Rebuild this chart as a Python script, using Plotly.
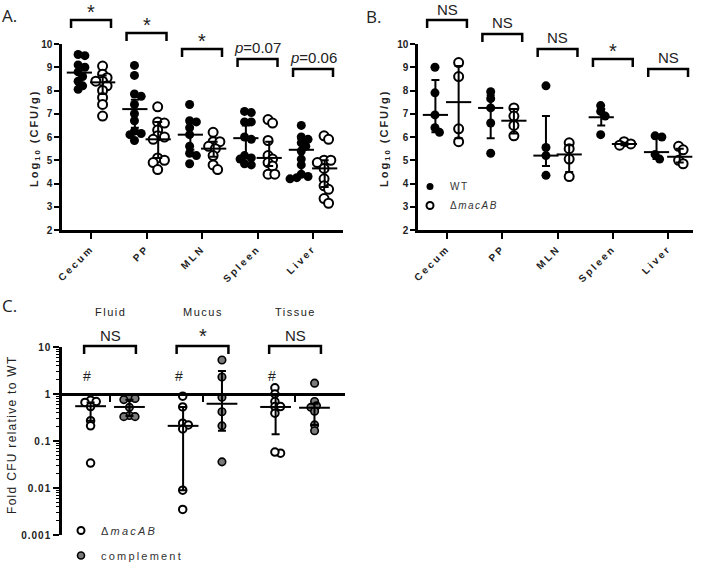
import numpy as np
import plotly.graph_objects as go

W, H = 701, 563
FONT = "Liberation Sans"

# ---------------- data ----------------
organs = ["Cecum", "PP", "MLN", "Spleen", "Liver"]
yticks_ab = [2, 3, 4, 5, 6, 7, 8, 9, 10]

# Panel A: log10 CFU/g, WT vs ΔmacAB
a_wt = [
    [9.5, 9.55, 9.1, 9.0, 8.8, 8.6, 8.4, 8.2, 8.05],
    [9.08, 8.65, 7.85, 7.75, 7.4, 7.0, 6.7, 6.25, 6.15, 6.1, 5.85],
    [7.4, 6.7, 6.65, 6.4, 6.1, 5.6, 5.3, 5.2, 4.85],
    [7.1, 7.05, 6.65, 6.65, 6.0, 5.9, 5.2, 5.1, 5.05, 4.85, 4.8],
    [6.5, 6.0, 5.9, 5.75, 5.6, 5.4, 5.05, 4.8, 4.4, 4.3, 4.25, 4.2],
]
a_mut = [
    [9.05, 8.7, 8.55, 8.4, 8.4, 8.2, 8.0, 7.7, 7.4, 6.9],
    [7.3, 6.65, 6.6, 6.3, 6.05, 6.0, 5.9, 5.1, 5.0, 4.9, 4.6],
    [6.2, 5.8, 5.8, 5.6, 5.5, 5.2, 4.8, 4.6],
    [6.75, 6.6, 5.85, 5.2, 5.05, 4.9, 4.75, 4.4, 4.4],
    [6.05, 5.9, 5.0, 5.0, 4.9, 4.65, 4.2, 3.9, 3.75, 3.35, 3.15],
]
a_wt_mid = [8.77, 7.2, 6.1, 5.95, 5.45]
a_wt_hi = [9.1, 7.6, 6.6, 6.5, 5.9]
a_wt_lo = [8.3, 6.4, 5.45, 5.1, 4.35]
a_mut_mid = [8.35, 5.9, 5.5, 5.1, 4.65]
a_mut_hi = [8.65, 6.65, 5.8, 5.8, 5.0]
a_mut_lo = [7.85, 5.1, 5.15, 4.75, 3.85]
a_sig = ["*", "*", "*", "<i>p</i>=0.07", "<i>p</i>=0.06"]

# Panel B
b_wt = [
    [9.0, 7.9, 6.95, 6.4, 6.2],
    [7.95, 7.65, 7.25, 6.6, 5.3],
    [8.2, 5.55, 5.2, 4.35],
    [7.35, 7.1, 6.9, 6.1],
    [6.05, 6.0, 5.25, 5.05],
]
b_mut = [
    [9.2, 8.6, 6.35, 5.8],
    [7.25, 6.9, 6.5, 6.05],
    [5.75, 5.5, 5.05, 4.3],
    [5.8, 5.7, 5.65],
    [5.6, 5.45, 5.0, 4.85],
]
b_wt_mid = [6.95, 7.25, 5.2, 6.85, 5.35]
b_wt_hi = [8.45, 7.8, 6.9, 7.2, 5.95]
b_wt_lo = [6.2, 5.95, 4.75, 6.5, 5.05]
b_mut_mid = [7.5, 6.7, 5.25, 5.7, 5.15]
b_mut_hi = [9.05, 7.2, 5.65, 5.75, 5.5]
b_mut_lo = [5.95, 6.15, 4.5, 5.65, 4.9]
b_sig = ["NS", "NS", "NS", "*", "NS"]

# Panel C: fold CFU relative to WT
sites = ["Fluid", "Mucus", "Tissue"]
c_mut = [
    [0.74, 0.69, 0.66, 0.54, 0.27, 0.21, 0.034],
    [0.9, 0.53, 0.24, 0.22, 0.18, 0.009, 0.0035],
    [1.35, 1.0, 0.69, 0.54, 0.54, 0.39, 0.055, 0.058],
]
c_comp = [
    [0.83, 0.8, 0.76, 0.52, 0.35, 0.33, 0.33],
    [5.3, 2.3, 0.85, 0.42, 0.21, 0.036],
    [1.7, 0.69, 0.56, 0.52, 0.43, 0.22, 0.165],
]
c_mut_mid = [0.55, 0.21, 0.53]
c_mut_hi = [0.66, 0.53, 1.0]
c_mut_lo = [0.27, 0.009, 0.14]
c_comp_mid = [0.53, 0.62, 0.51]
c_comp_hi = [0.75, 3.1, 0.62]
c_comp_lo = [0.34, 0.165, 0.22]
c_sig = ["NS", "*", "NS"]
c_hash_y = 2.4
c_ticks = [0.001, 0.01, 0.1, 1, 10]
c_ticktext = ["0.001", "0.01", "0.1", "1", "10"]

# ---------------- geometry ----------------
A_XD = (62 / W, 343 / W); A_XR = (0.477, 5.54)
B_XD = (418 / W, 693 / W); B_XR = (0.475, 5.45)
AB_YD = (1 - 230 / H, 1 - 44 / H); AB_YR = (2, 10)
C_XD = (62 / W, 345 / W); C_XR = (0.481, 3.54)
C_YD = (1 - 535 / H, 1 - 347 / H); C_YR = (-3, 1)


def sp(text, ls):
    return f'<span style="letter-spacing:{ls}px">{text}</span>'


def xpx_per_unit(dom, rng):
    return (dom[1] - dom[0]) * W / (rng[1] - rng[0])


def ypx_per_unit(dom, rng):
    return (dom[1] - dom[0]) * H / (rng[1] - rng[0])


def to_paper(v, dom, rng):
    return dom[0] + (v - rng[0]) / (rng[1] - rng[0]) * (dom[1] - dom[0])


def swarm(vals, d, ypu, xpu, log=False):
    ys = [(np.log10(v) if log else v) * ypu for v in vals]
    order = sorted(range(len(vals)), key=lambda i: -ys[i])
    placed = []
    offs = [0.0] * len(vals)
    step = d * 0.25
    cands = [0]
    for k in range(1, 40):
        cands += [k, -k]
    for i in order:
        y = ys[i]
        for k in cands:
            ox = k * step
            if all((ox - px) ** 2 + (y - py) ** 2 >= (d * 0.62) ** 2 for px, py in placed):
                break
        placed.append((ox, y))
        offs[i] = ox / xpu
    m = np.mean(offs)
    return [o - m * 0.5 for o in offs]


fig = go.Figure()

SHIFT_AB = 0.21
SHIFT_C = 0.21


def add_group(xpos, vals, mid, hi, lo, xa, ya, style, d, ypu, xpu, log=False, cw=18):
    offs = swarm(vals, d, ypu, xpu, log)
    fig.add_trace(go.Scatter(
        x=[xpos + o for o in offs], y=vals, mode="markers",
        marker=dict(size=d, **style), xaxis=xa, yaxis=ya,
        showlegend=False, hoverinfo="skip", cliponaxis=False))
    fig.add_trace(go.Scatter(
        x=[xpos], y=[mid], mode="markers", xaxis=xa, yaxis=ya,
        marker=dict(symbol="line-ew", size=cw, color="black",
                    line=dict(color="black", width=2)),
        error_y=dict(type="data", symmetric=False, array=[hi - mid],
                     arrayminus=[mid - lo], thickness=2, width=4, color="black"),
        showlegend=False, hoverinfo="skip", cliponaxis=False))


STY_WT = dict(color="black", line=dict(width=0))
STY_MUT = dict(color="white", line=dict(color="black", width=2))
STY_COMP = dict(color="#7a7a7a", line=dict(color="black", width=1.6))

xpuA = xpx_per_unit(A_XD, A_XR); ypuAB = ypx_per_unit(AB_YD, AB_YR)
for i in range(5):
    add_group(i + 1 - SHIFT_AB, a_wt[i], a_wt_mid[i], a_wt_hi[i], a_wt_lo[i],
              "x", "y", STY_WT, 9, ypuAB, xpuA)
    add_group(i + 1 + SHIFT_AB, a_mut[i], a_mut_mid[i], a_mut_hi[i], a_mut_lo[i],
              "x", "y", STY_MUT, 9, ypuAB, xpuA)

xpuB = xpx_per_unit(B_XD, B_XR)
for i in range(5):
    add_group(i + 1 - SHIFT_AB, b_wt[i], b_wt_mid[i], b_wt_hi[i], b_wt_lo[i],
              "x2", "y2", STY_WT, 9, ypuAB, xpuB)
    add_group(i + 1 + SHIFT_AB, b_mut[i], b_mut_mid[i], b_mut_hi[i], b_mut_lo[i],
              "x2", "y2", STY_MUT, 9, ypuAB, xpuB)

xpuC = xpx_per_unit(C_XD, C_XR); ypuC = ypx_per_unit(C_YD, C_YR)
for i in range(3):
    add_group(i + 1 - SHIFT_C, c_mut[i], c_mut_mid[i], c_mut_hi[i], c_mut_lo[i],
              "x3", "y3", STY_MUT, 7.5, ypuC, xpuC, log=True, cw=22)
    add_group(i + 1 + SHIFT_C, c_comp[i], c_comp_mid[i], c_comp_hi[i], c_comp_lo[i],
              "x3", "y3", STY_COMP, 7.5, ypuC, xpuC, log=True, cw=22)

# legend-only traces
fig.add_trace(go.Scatter(x=[None], y=[None], mode="markers", name=sp("WT", 1.5),
                         marker=dict(size=7, **STY_WT), legend="legend",
                         xaxis="x2", yaxis="y2"))
fig.add_trace(go.Scatter(x=[None], y=[None], mode="markers",
                         name=sp("\u0394<i>macAB</i>", 1.5),
                         marker=dict(size=7, color="white", line=dict(color="black", width=2)),
                         legend="legend", xaxis="x2", yaxis="y2"))
fig.add_trace(go.Scatter(x=[None], y=[None], mode="markers",
                         name=sp("\u0394<i>macAB</i>", 2.2),
                         marker=dict(size=7, color="white", line=dict(color="black", width=2)),
                         legend="legend2", legendgroup="g1", xaxis="x3", yaxis="y3"))
fig.add_trace(go.Scatter(x=[None], y=[None], mode="markers", name=sp("complement", 2.2),
                         marker=dict(size=7, **STY_COMP), legend="legend2",
                         legendgroup="g2", xaxis="x3", yaxis="y3"))

# ---------------- axes ----------------
tickfont = dict(family=FONT, size=10, color="#222", weight="bold")
axcommon = dict(showline=True, linecolor="black", linewidth=2.5, ticks="outside",
                tickcolor="black", tickwidth=2, showgrid=False, zeroline=False,
                fixedrange=True, automargin=False)
for xa, dom, rng, ya in [("xaxis", A_XD, A_XR, "y"), ("xaxis2", B_XD, B_XR, "y2")]:
    fig.update_layout(**{xa: dict(domain=list(dom), range=list(rng), anchor=ya,
                                  tickmode="array", tickvals=[1, 2, 3, 4, 5],
                                  ticktext=[sp(o, 2.5) for o in organs],
                                  tickangle=-45, ticklen=6,
                                  tickfont=tickfont, **axcommon)})
for ya, xa in [("yaxis", "x"), ("yaxis2", "x2")]:
    fig.update_layout(**{ya: dict(domain=list(AB_YD), range=list(AB_YR), anchor=xa,
                                  tickmode="array", tickvals=yticks_ab, ticklen=5,
                                  tickfont=tickfont, **axcommon)})

c_line_pos = to_paper(0, C_YD, C_YR)
fig.update_layout(
    xaxis3=dict(domain=list(C_XD), range=list(C_XR), anchor="free",
                position=c_line_pos, tickmode="array", tickvals=[1, 2, 3],
                showticklabels=False, ticklen=6, **axcommon),
    yaxis3=dict(domain=list(C_YD), range=list(C_YR), type="log", anchor="x3",
                tickmode="array", tickvals=c_ticks,
                ticktext=[sp(t, 1) for t in c_ticktext],
                ticklen=6, tickfont=tickfont,
                minor=dict(ticks="outside", ticklen=3, tickwidth=1, tickcolor="black",
                           tickvals=[m * 10.0 ** e for e in range(-3, 1) for m in range(2, 10)]),
                **axcommon),
)

# ---------------- annotations & shapes ----------------
ann = []
shapes = []
TXT = "#222"


def note(x, y, text, font, xref="paper", yref="paper", **kw):
    d = dict(x=x, y=y, xref=xref, yref=yref, text=text, showarrow=False,
             xanchor="center", yanchor="middle", font=font)
    d.update(kw)
    ann.append(d)


def bracket(xc, half, top_px, leg_px, dom, rng, label, lab_px, size):
    xl = to_paper(xc - half, dom, rng)
    xr = to_paper(xc + half, dom, rng)
    yt = 1 - top_px / H
    yb = 1 - (top_px + leg_px) / H
    shapes.append(dict(type="path", xref="paper", yref="paper",
                       path=f"M{xl},{yb} L{xl},{yt} L{xr},{yt} L{xr},{yb}",
                       line=dict(color="black", width=2.5)))
    note((xl + xr) / 2, 1 - lab_px / H, label, dict(family=FONT, size=size, color=TXT))


a_top = [20, 33, 49, 59, 69]
b_top = [20, 34, 49, 59, 69]
for i in range(5):
    for lab, top, dom, rng in [(a_sig[i], a_top[i], A_XD, A_XR),
                               (b_sig[i], b_top[i], B_XD, B_XR)]:
        if lab == "*":
            bracket(i + 1, 0.36, top, 8, dom, rng, lab, top - 8, 20)
        else:
            bracket(i + 1, 0.36, top, 8, dom, rng, lab, top - 11, 15)

for i in range(3):
    lab = c_sig[i]
    if lab == "*":
        bracket(i + 1, 0.28, 346, 8, C_XD, C_XR, lab, 336, 20)
    else:
        bracket(i + 1, 0.28, 346, 8, C_XD, C_XR, lab, 335, 15)
    note(to_paper(i + 1, C_XD, C_XR), 1 - 312 / H, sp(sites[i], 1.5),
         dict(family=FONT, size=11, color=TXT))
    note(i + 1 - 0.25, np.log10(c_hash_y), "#", dict(family=FONT, size=14, color=TXT),
         xref="x3", yref="y3")

# axis titles
ytitle = sp("Log<sub>10</sub>\u00a0(CFU/g)", 2.0)
for xp in (35, 385):
    note(xp / W, 1 - 138 / H, ytitle,
         dict(family=FONT, size=11, color=TXT, weight="bold"), textangle=-90)
note(12 / W, 1 - 435 / H, sp("Fold CFU relative to WT", 1.3),
     dict(family=FONT, size=12, color=TXT), textangle=-90)

# panel letters
for t, xp, yp in [("A.", 0, 16), ("B.", 364, 17), ("C.", 0, 305)]:
    note(xp / W, 1 - yp / H, t, dict(family="Open Sans", size=17, color=TXT),
         xanchor="left")

fig.update_layout(
    width=W, height=H, margin=dict(l=0, r=0, t=0, b=0, autoexpand=False),
    paper_bgcolor="white", plot_bgcolor="white",
    annotations=ann, shapes=shapes,
    legend=dict(x=410 / W, y=1 - 172 / H, xanchor="left", yanchor="top",
                bgcolor="rgba(0,0,0,0)", font=dict(family=FONT, size=10, color="#333"),
                itemwidth=30),
    legend2=dict(x=61 / W, y=1 - 516 / H, xanchor="left", yanchor="top",
                 bgcolor="rgba(0,0,0,0)", font=dict(family=FONT, size=11, color="#333"),
                 tracegroupgap=6, itemwidth=30),
    showlegend=True,
)

fig.write_html("out.html", config={"displayModeBar": False},
               post_script="document.body.style.margin='0px';"
                           "document.body.style.overflow='hidden';")
